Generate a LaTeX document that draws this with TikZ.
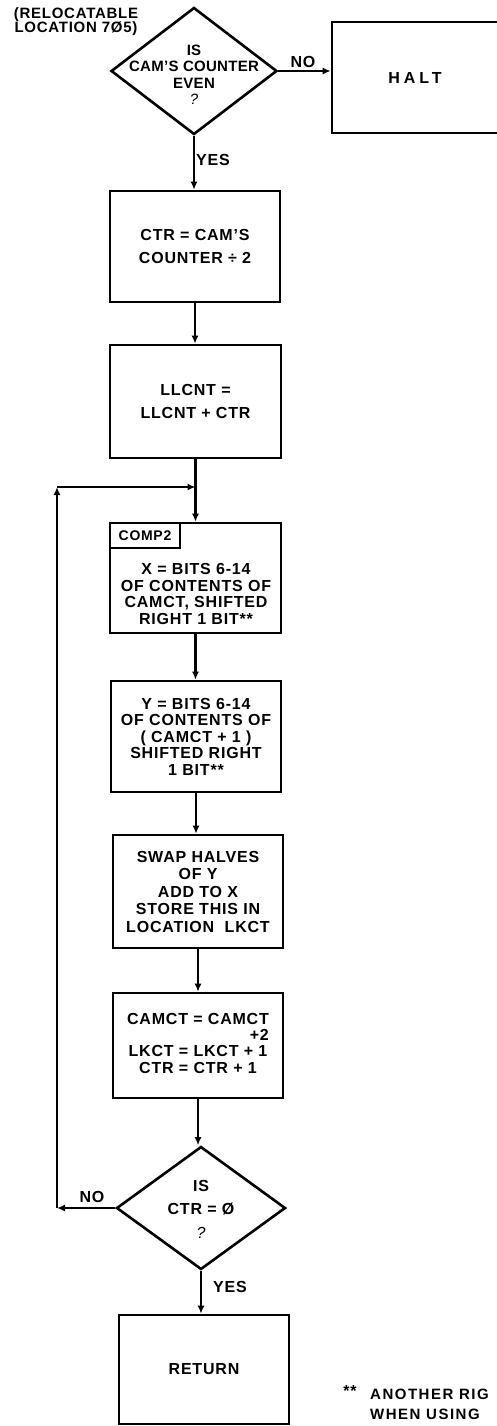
\documentclass[tikz,border=0pt]{standalone}
\usepackage{fontspec}
\setmainfont{Liberation Sans}[LetterSpace=5]
\usetikzlibrary{shapes.geometric,arrows.meta}
\begin{document}
\begin{tikzpicture}[x=1pt,y=-1pt,
  box/.style={draw, rectangle, inner sep=0pt, line width=2.6pt, align=center,
    font=\fontsize{16}{23.5}\selectfont\bfseries},
  dia/.style={draw, diamond, inner sep=0pt, line width=2.6pt},
  txt/.style={align=center, inner sep=0pt, font=\fontsize{16}{16.5}\selectfont\bfseries},
  arr/.style={-{Latex[length=8pt,width=7pt]}, line width=2.4pt},
  lbl/.style={inner sep=0pt, font=\fontsize{16}{16}\selectfont\bfseries}
]
\useasboundingbox (0,0) rectangle (496,1426);

% top label
\node[txt, font=\fontsize{15}{14}\selectfont\bfseries] (reloc) at (76,22) {(RELOCATABLE\\LOCATION 7Ø5)};

% first decision
\node[dia, minimum width=166pt, minimum height=127pt] (d1) at (194,71) {};
\node[txt, font=\fontsize{15}{16.5}\selectfont\bfseries\addfontfeature{LetterSpace=2}] (d1t) at (194,75) {IS\\CAM'S COUNTER\\EVEN\\{\mdseries\itshape ?}};
\node[box, minimum width=166pt, minimum height=111pt] (halt) at (415,77.5) {\addfontfeature{LetterSpace=25}HALT};

% process boxes
\node[box, minimum width=170pt, minimum height=111pt] (ctr) at (195,246.5) {CTR = CAM'S\\COUNTER ÷ 2};
\node[box, minimum width=171pt, minimum height=113pt] (ll) at (195.5,401.5) {LLCNT =\\LLCNT + CTR};
\node[box, minimum width=171pt, minimum height=110pt] (comp2) at (195.5,578) {};
\node[box, anchor=north west, minimum width=70pt, minimum height=25pt,
  font=\fontsize{14}{14}\selectfont\bfseries] (comp2lab) at (comp2.north west) {COMP2};
\node[txt] (comp2t) at (196,594) {X = BITS 6-14\\OF CONTENTS OF\\CAMCT, SHIFTED\\RIGHT 1 BIT**};
\node[box, minimum width=170pt, minimum height=111pt, font=\fontsize{16}{16.5}\selectfont\bfseries] (ybox) at (196,736.5)
  {Y = BITS 6-14\\OF CONTENTS OF\\( CAMCT + 1 )\\SHIFTED RIGHT\\1 BIT**};
\node[box, minimum width=170pt, minimum height=113pt, font=\fontsize{16}{17.5}\selectfont\bfseries] (swap) at (198,891.5)
  {SWAP HALVES\\OF Y\\ADD TO X\\STORE THIS IN\\LOCATION~~LKCT};
\node[box, minimum width=170pt, minimum height=105pt, font=\fontsize{16}{16.5}\selectfont\bfseries] (camct) at (198,1045.5)
  {\renewcommand{\arraystretch}{0.98}\begin{tabular}{@{}c@{}}CAMCT = CAMCT\\ \hfill +2\\ LKCT = LKCT + 1\\ CTR = CTR + 1\end{tabular}};

% second decision
\node[dia, minimum width=169pt, minimum height=123pt] (d2) at (201,1208) {};
\node[txt, font=\fontsize{16}{23.5}\selectfont\bfseries] (d2t) at (201,1209) {IS\\CTR = Ø\\{\mdseries\itshape ?}};
\node[box, minimum width=170pt, minimum height=109pt] (ret) at (204,1369.5) {RETURN};

% footnote
\node[lbl] (ast) at (350,1391) {**};
\node[lbl, anchor=west, font=\fontsize{15}{16}\selectfont\bfseries\addfontfeature{LetterSpace=10}] (fn1) at (370,1394) {ANOTHER RIG};
\node[lbl, anchor=west, font=\fontsize{15}{16}\selectfont\bfseries\addfontfeature{LetterSpace=10}] (fn2) at (370,1414) {WHEN USING};

% connectors
\draw[arr] (d1.east) -- (d1.east -| halt.west);
\node[lbl] (no1) at (303,62) {NO};
\draw[arr] (d1.south) -- (d1.south |- ctr.north);
\node[lbl] (yes1) at (213,160) {YES};
\draw[arr] (ctr.south) -- (ctr.south |- ll.north);
\draw[arr] (ll.south) -- (ll.south |- comp2.north);
\draw[arr] (comp2.south) -- (comp2.south |- ybox.north);
\draw[arr] (ybox.south) -- (ybox.south |- swap.north);
\draw[arr] (swap.south) -- (swap.south |- camct.north);
\draw[arr] (camct.south) -- (camct.south |- d2.north);
\draw[arr] (d2.south) -- (d2.south |- ret.north);
\node[lbl] (yes2) at (230,1287) {YES};

% loop back
\coordinate (lb) at (57,1208);
\coordinate (lt) at (57,487);
\coordinate (jn) at (ll.south |- lt);
\draw[arr] (d2.west) -- (lb);
\draw[arr] (lb) -- (lt);
\draw[arr] (lt) -- (jn);
\node[lbl] (no2) at (92,1197) {NO};
\end{tikzpicture}
\end{document}
